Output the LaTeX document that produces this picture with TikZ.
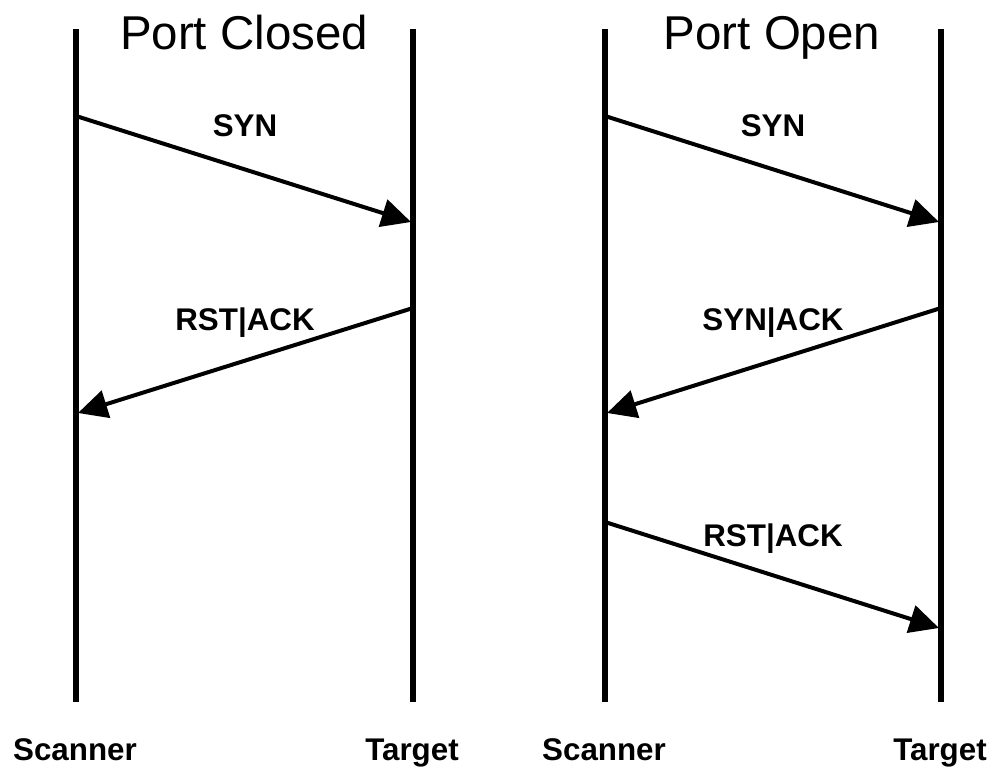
\documentclass[tikz,border=0pt]{standalone}
\usepackage{fontspec}
\setmainfont{Liberation Sans}
\usetikzlibrary{arrows.meta}
\begin{document}
\begin{tikzpicture}[x=0.75pt,y=-0.75pt,
  lifeline/.style={line width=4.5pt},
  msg/.style={line width=3pt,-{Triangle[length=22pt,width=21pt]}},
  title/.style={font=\fontsize{35.6}{40}\selectfont,inner sep=0pt,anchor=base},
  msglabel/.style={font=\fontsize{23.5}{26}\selectfont\bfseries,inner sep=0pt,anchor=base},
  actor/.style={font=\fontsize{23.5}{26}\selectfont\bfseries,inner sep=0pt,anchor=base}]
\useasboundingbox (0,0) rectangle (995,770);

% lifelines, closed port
\coordinate (cst) at (76,29);  \coordinate (csb) at (76,702);
\coordinate (ctt) at (413,29); \coordinate (ctb) at (413,702);
% lifelines, open port
\coordinate (ost) at (605,29); \coordinate (osb) at (605,702);
\coordinate (ott) at (941,29); \coordinate (otb) at (941,702);
\draw[lifeline] (cst) -- (csb);
\draw[lifeline] (ctt) -- (ctb);
\draw[lifeline] (ost) -- (osb);
\draw[lifeline] (ott) -- (otb);

% titles and actor names
\node[title] (tclosed) at (244,50) {Port Closed};
\node[title] (topen) at (772,50) {Port Open};
\node[actor] (cscan) at (75,760) {Scanner};
\node[actor] (ctarg) at (412,760) {Target};
\node[actor] (oscan) at (604,760) {Scanner};
\node[actor] (otarg) at (940,760) {Target};

% message end points
\coordinate (c1a) at (76,116);  \coordinate (c1b) at (411,222);
\coordinate (c2a) at (413,308); \coordinate (c2b) at (78,413);
\coordinate (o1a) at (605,116); \coordinate (o1b) at (939,222);
\coordinate (o2a) at (941,308); \coordinate (o2b) at (607,413);
\coordinate (o3a) at (605,522); \coordinate (o3b) at (939,628);

% messages
\draw[msg] (c1a) -- (c1b);
\draw[msg] (c2a) -- (c2b);
\draw[msg] (o1a) -- (o1b);
\draw[msg] (o2a) -- (o2b);
\draw[msg] (o3a) -- (o3b);

\node[msglabel] (lc1) at (245,137) {SYN};
\node[msglabel] (lc2) at (245,330) {RST|ACK};
\node[msglabel] (lo1) at (773,137) {SYN};
\node[msglabel] (lo2) at (773,330) {SYN|ACK};
\node[msglabel] (lo3) at (773,546) {RST|ACK};
\end{tikzpicture}
\end{document}
